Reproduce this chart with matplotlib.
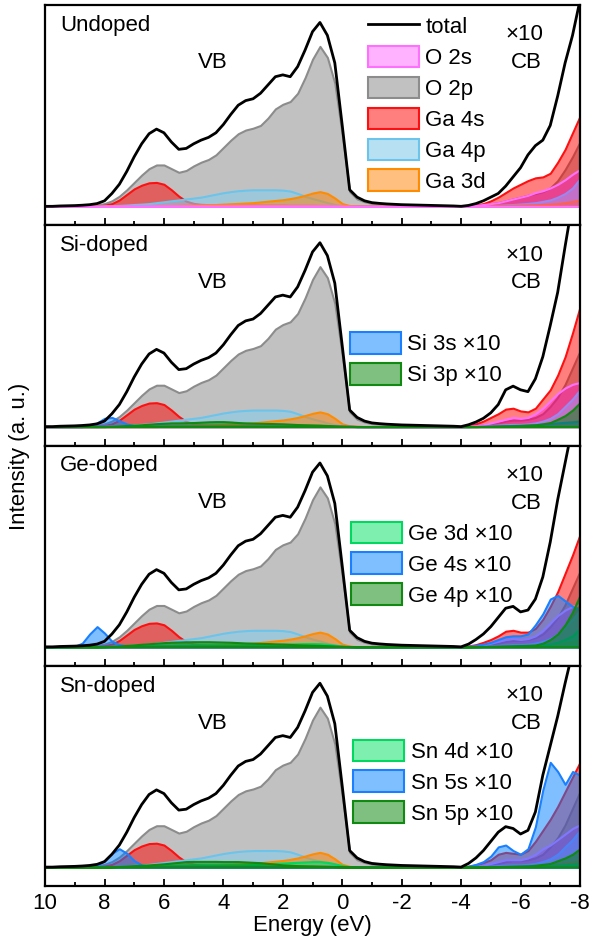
import numpy as np
import matplotlib
matplotlib.use('Agg')
import matplotlib.pyplot as plt
from matplotlib.colors import to_rgba

plt.rcParams['font.family'] = ['Liberation Sans', 'DejaVu Sans']
plt.rcParams['font.size'] = 16

# energy grid (eV); VB part read every 0.25 eV from 10 to -4, CB part (x10) from -4.25 to -8
e_vb = np.arange(10, -4.01, -0.25)
e_cb = np.arange(-4.25, -8.01, -0.25)
e_all = np.concatenate([e_vb, e_cb])

panel_names = ['Undoped', 'Si-doped', 'Ge-doped', 'Sn-doped']

# ---- valence band, host states (same for all four panels) ----
tot_vb = [0, 0, 0.002, 0.003, 0.004, 0.006, 0.009, 0.015,
          0.03, 0.07, 0.12, 0.19, 0.27, 0.34, 0.395, 0.42,
          0.40, 0.35, 0.31, 0.315, 0.34, 0.36, 0.375, 0.40,
          0.445, 0.50, 0.55, 0.575, 0.585, 0.615, 0.66, 0.705,
          0.715, 0.705, 0.76, 0.85, 0.95, 1.0, 0.93, 0.78,
          0.44, 0.09, 0.05, 0.03, 0.02, 0.016, 0.013, 0.011,
          0.009, 0.008, 0.007, 0.006, 0.005, 0.004, 0.003, 0.002, 0]
o2p_vb = [0, 0, 0, 0.001, 0.002, 0.003, 0.005, 0.008,
          0.015, 0.03, 0.055, 0.09, 0.13, 0.17, 0.205, 0.225,
          0.225, 0.205, 0.185, 0.195, 0.22, 0.24, 0.255, 0.28,
          0.32, 0.36, 0.395, 0.415, 0.425, 0.44, 0.48, 0.53,
          0.555, 0.57, 0.615, 0.70, 0.80, 0.87, 0.81, 0.67,
          0.39, 0.08, 0.04, 0.025, 0.016, 0.013, 0.011, 0.009,
          0.008, 0.007, 0.006, 0.005, 0.004, 0.003, 0.002, 0.001, 0]
ga4s_vb = [0, 0, 0, 0, 0, 0, 0.001, 0.002,
           0.006, 0.015, 0.035, 0.065, 0.095, 0.115, 0.128, 0.13,
           0.12, 0.09, 0.055, 0.028, 0.016, 0.011, 0.009, 0.008,
           0.008, 0.008, 0.008, 0.008, 0.008, 0.007, 0.007, 0.007,
           0.007, 0.006, 0.006, 0.006, 0.006, 0.005, 0.005, 0.004,
           0.003, 0.002, 0.001, 0, 0, 0, 0, 0,
           0, 0, 0, 0, 0, 0, 0, 0, 0]
ga4p_vb = [0, 0, 0, 0, 0, 0, 0, 0,
           0.001, 0.003, 0.005, 0.007, 0.01, 0.012, 0.015, 0.02,
           0.025, 0.03, 0.035, 0.04, 0.045, 0.05, 0.058, 0.066,
           0.074, 0.08, 0.085, 0.088, 0.09, 0.09, 0.09, 0.09,
           0.088, 0.083, 0.07, 0.055, 0.042, 0.032, 0.02, 0.01,
           0.004, 0.001, 0, 0, 0, 0, 0, 0,
           0, 0, 0, 0, 0, 0, 0, 0, 0]
ga3d_vb = [0, 0, 0, 0, 0, 0, 0, 0,
           0, 0, 0, 0, 0, 0, 0, 0,
           0.003, 0.004, 0.005, 0.006, 0.007, 0.008, 0.009, 0.01,
           0.012, 0.014, 0.016, 0.018, 0.02, 0.024, 0.028, 0.032,
           0.036, 0.042, 0.05, 0.06, 0.072, 0.08, 0.07, 0.045,
           0.015, 0.004, 0.001, 0, 0, 0, 0, 0,
           0, 0, 0, 0, 0, 0, 0, 0, 0]
o2s_vb = [0, 0, 0, 0, 0, 0, 0, 0,
          0.001, 0.001, 0.001, 0.002, 0.002, 0.002, 0.002, 0.002,
          0.002, 0.002, 0.002, 0.002, 0.002, 0.002, 0.002, 0.002,
          0.002, 0.002, 0.002, 0.002, 0.002, 0.002, 0.002, 0.002,
          0.002, 0.002, 0.002, 0.002, 0.002, 0.002, 0.002, 0.001,
          0.001, 0, 0, 0, 0, 0, 0, 0,
          0, 0, 0, 0, 0, 0, 0, 0, 0]

# ---- valence band, dopant states (x10); order Si, Ge, Sn ----
dop_s_vb = [
    # Si 3s
    [0, 0, 0, 0, 0, 0, 0.006, 0.02,
     0.045, 0.05, 0.032, 0.014, 0.006, 0.004, 0.003, 0.003,
     0.003, 0.003, 0.003, 0.003, 0.003, 0.003, 0.003, 0.003,
     0.003, 0.003, 0.003, 0.003, 0.003, 0.003, 0.003, 0.003,
     0.003, 0.003, 0.003, 0.003, 0.003, 0.003, 0.003, 0.003,
     0.003, 0.002, 0, 0, 0, 0, 0, 0,
     0, 0, 0, 0, 0, 0, 0, 0, 0],
    # Ge 4s
    [0, 0, 0, 0, 0.003, 0.02, 0.07, 0.11,
     0.075, 0.03, 0.012, 0.006, 0.004, 0.003, 0.003, 0.003,
     0.003, 0.003, 0.003, 0.003, 0.003, 0.003, 0.003, 0.003,
     0.003, 0.003, 0.003, 0.003, 0.003, 0.003, 0.003, 0.003,
     0.003, 0.003, 0.003, 0.003, 0.003, 0.003, 0.003, 0.003,
     0.003, 0.002, 0, 0, 0, 0, 0, 0,
     0, 0, 0, 0, 0, 0, 0, 0, 0],
    # Sn 5s
    [0, 0, 0, 0, 0, 0, 0, 0.01,
     0.035, 0.075, 0.10, 0.075, 0.035, 0.012, 0.006, 0.004,
     0.004, 0.004, 0.004, 0.004, 0.004, 0.004, 0.004, 0.004,
     0.004, 0.004, 0.004, 0.004, 0.004, 0.004, 0.004, 0.004,
     0.004, 0.004, 0.004, 0.004, 0.004, 0.004, 0.004, 0.004,
     0.003, 0.002, 0, 0, 0, 0, 0, 0,
     0, 0, 0, 0, 0, 0, 0, 0, 0],
]
dop_p_vb = [
    # Si 3p
    [0, 0, 0, 0, 0, 0, 0, 0,
     0, 0.002, 0.004, 0.006, 0.008, 0.01, 0.013, 0.016,
     0.018, 0.02, 0.02, 0.021, 0.022, 0.024, 0.026, 0.027,
     0.027, 0.025, 0.022, 0.02, 0.019, 0.018, 0.017, 0.016,
     0.015, 0.013, 0.011, 0.01, 0.009, 0.008, 0.006, 0.004,
     0.002, 0.001, 0, 0, 0, 0, 0, 0,
     0, 0, 0, 0, 0, 0, 0, 0, 0],
    # Ge 4p
    [0, 0, 0, 0, 0, 0, 0, 0,
     0.001, 0.003, 0.005, 0.008, 0.011, 0.014, 0.017, 0.02,
     0.023, 0.025, 0.026, 0.027, 0.028, 0.028, 0.028, 0.027,
     0.026, 0.025, 0.023, 0.021, 0.02, 0.019, 0.018, 0.016,
     0.015, 0.013, 0.011, 0.01, 0.009, 0.008, 0.006, 0.004,
     0.002, 0.001, 0, 0, 0, 0, 0, 0,
     0, 0, 0, 0, 0, 0, 0, 0, 0],
    # Sn 5p
    [0, 0, 0, 0, 0, 0, 0, 0,
     0, 0.002, 0.004, 0.006, 0.008, 0.01, 0.012, 0.015,
     0.018, 0.022, 0.026, 0.03, 0.031, 0.031, 0.031, 0.031,
     0.03, 0.03, 0.03, 0.028, 0.026, 0.024, 0.02, 0.016,
     0.012, 0.01, 0.008, 0.007, 0.006, 0.005, 0.004, 0.003,
     0.002, 0.001, 0, 0, 0, 0, 0, 0,
     0, 0, 0, 0, 0, 0, 0, 0, 0],
]
dop_d_vb = [
    None,
    # Ge 3d
    [0, 0, 0, 0, 0, 0, 0, 0,
     0, 0.001, 0.002, 0.003, 0.004, 0.005, 0.006, 0.007,
     0.008, 0.008, 0.009, 0.009, 0.01, 0.01, 0.01, 0.01,
     0.01, 0.01, 0.01, 0.01, 0.011, 0.012, 0.013, 0.014,
     0.015, 0.016, 0.017, 0.018, 0.018, 0.017, 0.014, 0.009,
     0.004, 0.001, 0, 0, 0, 0, 0, 0,
     0, 0, 0, 0, 0, 0, 0, 0, 0],
    # Sn 4d
    [0, 0, 0, 0, 0, 0, 0, 0,
     0, 0.001, 0.002, 0.003, 0.004, 0.005, 0.006, 0.007,
     0.008, 0.009, 0.01, 0.011, 0.012, 0.012, 0.012, 0.012,
     0.012, 0.012, 0.012, 0.013, 0.014, 0.016, 0.018, 0.02,
     0.022, 0.024, 0.026, 0.028, 0.03, 0.03, 0.026, 0.018,
     0.008, 0.002, 0, 0, 0, 0, 0, 0,
     0, 0, 0, 0, 0, 0, 0, 0, 0],
]

# ---- conduction band (x10), one list per panel: Undoped, Si, Ge, Sn ----
tot_cb = [
    [0.005, 0.015, 0.03, 0.05, 0.07, 0.11, 0.16, 0.21, 0.28, 0.33, 0.36, 0.44, 0.60, 0.78, 0.93, 1.12],
    [0.01, 0.025, 0.045, 0.075, 0.12, 0.20, 0.22, 0.20, 0.19, 0.26, 0.38, 0.55, 0.73, 0.98, 1.22, 1.45],
    [0.015, 0.04, 0.07, 0.11, 0.16, 0.21, 0.22, 0.19, 0.20, 0.26, 0.38, 0.57, 0.80, 1.0, 1.2, 1.4],
    [0.02, 0.05, 0.09, 0.14, 0.19, 0.22, 0.21, 0.18, 0.20, 0.30, 0.50, 0.66, 0.82, 1.0, 1.17, 1.35],
]
o2s_cb = [
    [0.002, 0.005, 0.01, 0.015, 0.02, 0.03, 0.04, 0.05, 0.06, 0.075, 0.085, 0.10, 0.12, 0.145, 0.175, 0.20],
    [0.002, 0.005, 0.01, 0.02, 0.03, 0.04, 0.05, 0.045, 0.05, 0.07, 0.10, 0.14, 0.18, 0.21, 0.23, 0.24],
    [0.002, 0.005, 0.01, 0.02, 0.03, 0.04, 0.045, 0.04, 0.045, 0.06, 0.09, 0.13, 0.17, 0.20, 0.22, 0.23],
    [0.002, 0.005, 0.01, 0.02, 0.03, 0.04, 0.04, 0.04, 0.05, 0.07, 0.10, 0.12, 0.15, 0.18, 0.21, 0.23],
]
o2p_cb = [
    [0.002, 0.005, 0.01, 0.015, 0.02, 0.03, 0.04, 0.05, 0.06, 0.07, 0.08, 0.10, 0.14, 0.20, 0.27, 0.35],
    [0.002, 0.005, 0.01, 0.015, 0.02, 0.03, 0.035, 0.035, 0.04, 0.05, 0.07, 0.11, 0.16, 0.23, 0.32, 0.41],
    [0.002, 0.005, 0.01, 0.015, 0.02, 0.03, 0.035, 0.035, 0.04, 0.05, 0.07, 0.11, 0.16, 0.23, 0.32, 0.41],
    [0.002, 0.005, 0.01, 0.015, 0.02, 0.03, 0.035, 0.035, 0.04, 0.05, 0.07, 0.11, 0.16, 0.23, 0.32, 0.41],
]
ga4s_cb = [
    [0.003, 0.008, 0.015, 0.03, 0.05, 0.075, 0.10, 0.12, 0.14, 0.155, 0.16, 0.18, 0.24, 0.31, 0.40, 0.49],
    [0.005, 0.015, 0.03, 0.05, 0.07, 0.095, 0.10, 0.085, 0.08, 0.10, 0.15, 0.20, 0.28, 0.38, 0.51, 0.65],
    [0.005, 0.012, 0.025, 0.04, 0.06, 0.085, 0.09, 0.08, 0.08, 0.10, 0.15, 0.22, 0.30, 0.40, 0.50, 0.61],
    [0.005, 0.012, 0.025, 0.04, 0.07, 0.08, 0.075, 0.07, 0.09, 0.14, 0.20, 0.26, 0.33, 0.41, 0.49, 0.57],
]
ga4p_cb = [
    [0, 0.001, 0.002, 0.004, 0.006, 0.008, 0.01, 0.013, 0.016, 0.02, 0.027, 0.035, 0.05, 0.07, 0.10, 0.15],
    [0, 0.002, 0.004, 0.006, 0.008, 0.01, 0.012, 0.012, 0.015, 0.02, 0.03, 0.045, 0.07, 0.11, 0.15, 0.20],
    [0, 0.002, 0.004, 0.006, 0.008, 0.01, 0.012, 0.012, 0.015, 0.02, 0.03, 0.045, 0.07, 0.11, 0.15, 0.20],
    [0, 0.002, 0.004, 0.006, 0.008, 0.01, 0.012, 0.012, 0.015, 0.02, 0.03, 0.045, 0.07, 0.11, 0.15, 0.20],
]
ga3d_cb = [
    [0, 0, 0.001, 0.002, 0.003, 0.004, 0.005, 0.006, 0.007, 0.008, 0.01, 0.012, 0.015, 0.02, 0.027, 0.035],
    [0, 0, 0.001, 0.002, 0.003, 0.004, 0.005, 0.006, 0.007, 0.008, 0.01, 0.012, 0.015, 0.02, 0.027, 0.035],
    [0, 0, 0.001, 0.002, 0.003, 0.004, 0.005, 0.006, 0.007, 0.008, 0.01, 0.012, 0.015, 0.02, 0.027, 0.035],
    [0, 0, 0.001, 0.002, 0.003, 0.004, 0.005, 0.006, 0.007, 0.008, 0.01, 0.012, 0.015, 0.02, 0.027, 0.035],
]
dop_s_cb = [
    None,
    [0, 0.001, 0.002, 0.003, 0.004, 0.005, 0.006, 0.007, 0.008, 0.01, 0.013, 0.016, 0.02, 0.023, 0.026, 0.03],
    [0.003, 0.008, 0.015, 0.025, 0.04, 0.055, 0.06, 0.06, 0.07, 0.12, 0.18, 0.26, 0.28, 0.25, 0.22, 0.20],
    [0.005, 0.015, 0.03, 0.06, 0.11, 0.12, 0.09, 0.07, 0.10, 0.22, 0.42, 0.57, 0.52, 0.45, 0.52, 0.50],
]
dop_p_cb = [
    None,
    [0, 0, 0.001, 0.002, 0.003, 0.004, 0.005, 0.006, 0.008, 0.01, 0.015, 0.022, 0.04, 0.06, 0.09, 0.13],
    [0, 0.001, 0.002, 0.003, 0.004, 0.005, 0.006, 0.007, 0.008, 0.01, 0.02, 0.04, 0.07, 0.12, 0.19, 0.28],
    [0, 0, 0.001, 0.002, 0.003, 0.004, 0.005, 0.006, 0.007, 0.01, 0.015, 0.02, 0.035, 0.05, 0.07, 0.10],
]
dop_d_cb = [
    None,
    None,
    [0, 0, 0.001, 0.001, 0.002, 0.002, 0.003, 0.004, 0.005, 0.007, 0.01, 0.015, 0.025, 0.04, 0.06, 0.10],
    [0.001, 0.001, 0.002, 0.002, 0.003, 0.003, 0.004, 0.004, 0.005, 0.006, 0.007, 0.008, 0.01, 0.013, 0.016, 0.02],
]

dop_s_labels = [None, 'Si 3s ×10', 'Ge 4s ×10', 'Sn 5s ×10']
dop_p_labels = [None, 'Si 3p ×10', 'Ge 4p ×10', 'Sn 5p ×10']
dop_d_labels = [None, None, 'Ge 3d ×10', 'Sn 4d ×10']

# colours: (face, alpha, edge)
c_o2s = ('#ff00ff', 0.3, '#ff70ff')
c_o2p = ('#a0a0a0', 0.65, '#8c8c8c')
c_ga4s = ('#ff0000', 0.5, '#ff1010')
c_ga4p = ('#87ceeb', 0.6, '#6cc4ea')
c_ga3d = ('#ff8000', 0.5, '#ff8c00')
c_s = ('#0080ff', 0.5, '#1a80ff')
c_p = ('#008000', 0.5, '#108a10')
c_d = ('#00e060', 0.5, '#00d860')


def fill(ax, vb, cb, col, label):
    y = np.concatenate([np.asarray(vb, float), np.asarray(cb, float)])
    face, alpha, edge = col
    return ax.fill_between(e_all, 0, y, facecolor=to_rgba(face, alpha),
                           edgecolor=edge, linewidth=1.5, label=label)


fig = plt.figure(figsize=(6.01, 9.44), dpi=100)
axes = fig.subplots(4, 1, sharex=True, gridspec_kw={'hspace': 0})
fig.subplots_adjust(left=0.075, right=0.965, top=0.9947, bottom=0.0614)

legend_pos = [(0.604, 0.955), (0.570, 0.515), (0.572, 0.655), (0.576, 0.665)]

for i, ax in enumerate(axes):
    h_o2p = fill(ax, o2p_vb, o2p_cb[i], c_o2p, 'O 2p')
    h_ga4s = fill(ax, ga4s_vb, ga4s_cb[i], c_ga4s, 'Ga 4s')
    h_ga4p = fill(ax, ga4p_vb, ga4p_cb[i], c_ga4p, 'Ga 4p')
    h_ga3d = fill(ax, ga3d_vb, ga3d_cb[i], c_ga3d, 'Ga 3d')
    h_o2s = fill(ax, o2s_vb, o2s_cb[i], c_o2s, 'O 2s')
    dop_handles = []
    if dop_d_cb[i] is not None:
        dop_handles.append(fill(ax, dop_d_vb[i - 1], dop_d_cb[i], c_d, dop_d_labels[i]))
    if dop_s_cb[i] is not None:
        hs = fill(ax, dop_s_vb[i - 1], dop_s_cb[i], c_s, dop_s_labels[i])
        hp = fill(ax, dop_p_vb[i - 1], dop_p_cb[i], c_p, dop_p_labels[i])
        dop_handles = dop_handles + [hs, hp]
    y_tot = np.concatenate([tot_vb, tot_cb[i]])
    h_tot, = ax.plot(e_all, y_tot, color='k', lw=2, label='total')

    if i == 0:
        handles = [h_tot, h_o2s, h_o2p, h_ga4s, h_ga4p, h_ga3d]
    else:
        handles = dop_handles
    ax.legend(handles=handles, loc='upper left', bbox_to_anchor=legend_pos[i],
              frameon=False, borderpad=0, borderaxespad=0, handlelength=2.3,
              handleheight=1.12, labelspacing=0.34, handletextpad=0.28,
              fontsize=16)

    ax.text(0.028, 0.955, panel_names[i], transform=ax.transAxes, va='top', ha='left')
    ax.text(0.314, 0.74, 'VB', transform=ax.transAxes, va='center', ha='center')
    ax.text(0.897, 0.864, '×10', transform=ax.transAxes, va='center', ha='center')
    ax.text(0.90, 0.738, 'CB', transform=ax.transAxes, va='center', ha='center')

    ax.set_xlim(10, -8)
    ax.set_ylim(-0.103, 1.095)
    ax.set_yticks([])
    ax.set_xticks(np.arange(10, -8.1, -2))
    ax.set_xticks(np.arange(9, -8, -2), minor=True)
    ax.tick_params(axis='x', which='major', direction='in', length=5, width=1.3, pad=5, labelsize=16)
    ax.tick_params(axis='x', which='minor', direction='in', length=3, width=1.3)
    for s in ax.spines.values():
        s.set_linewidth(1.6)

axes[-1].set_xticklabels(['10', '8', '6', '4', '2', '0', '-2', '-4', '-6', '-8'])
axes[-1].set_xlabel('Energy (eV)', fontsize=16, labelpad=1)
fig.text(0.033, 1 - 456 / 944, 'Intensity (a. u.)', rotation=90, va='center', ha='center', fontsize=16)

fig.savefig('out.png', dpi=100)
